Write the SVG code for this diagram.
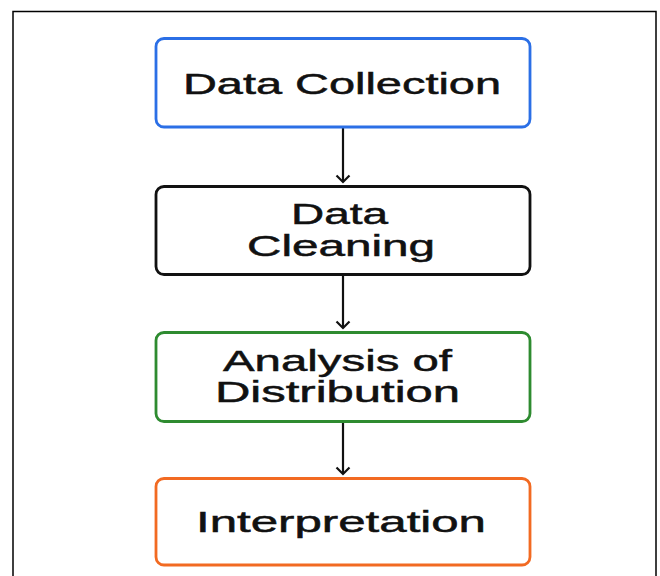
<svg xmlns="http://www.w3.org/2000/svg" width="660" height="576" viewBox="0 0 660 576">
<defs>
<style>
.box{fill:#fff;stroke-width:2.8}
.t{font-family:"Liberation Sans",Arial,sans-serif;font-size:30px;fill:#111;stroke:#111;stroke-width:0.5;text-anchor:start}
.c{stroke:#111;stroke-width:2.2;fill:none}
</style>
<marker id="ah" markerWidth="16" markerHeight="16" viewBox="0 0 16 16" refX="9" refY="8" orient="auto" markerUnits="userSpaceOnUse">
<path d="M2.5,1.5 L9,8 L2.5,14.5" fill="none" stroke="#111" stroke-width="2.2"/>
</marker>
</defs>
<rect x="0" y="0" width="660" height="576" fill="#fff"/>
<path d="M13,580 V11.5 H656 V580" fill="none" stroke="#000" stroke-width="1.5"/>
<g id="connectors">
<line class="c" x1="343" y1="127" x2="343" y2="182" marker-end="url(#ah)"/>
<line class="c" x1="343" y1="274" x2="343" y2="328" marker-end="url(#ah)"/>
<line class="c" x1="343" y1="422" x2="343" y2="474" marker-end="url(#ah)"/>
</g>
<g id="data-collection">
<rect class="box" x="156" y="38.5" width="374" height="88.5" rx="8" stroke="#2b6fe6"/>
<text class="t" x="183" y="93.5" textLength="318" lengthAdjust="spacingAndGlyphs">Data Collection</text>
</g>
<g id="data-cleaning">
<rect class="box" x="156" y="186.5" width="374" height="88" rx="8" stroke="#111"/>
<text class="t" x="291" y="223.5" textLength="97" lengthAdjust="spacingAndGlyphs">Data</text>
<text class="t" x="247" y="255.5" textLength="188" lengthAdjust="spacingAndGlyphs">Cleaning</text>
</g>
<g id="analysis">
<rect class="box" x="156" y="332.5" width="374" height="89" rx="8" stroke="#2e8b30"/>
<text class="t" x="223" y="370.5" textLength="229" lengthAdjust="spacingAndGlyphs">Analysis of</text>
<text class="t" x="215" y="401.5" textLength="245" lengthAdjust="spacingAndGlyphs">Distribution</text>
</g>
<g id="interpretation">
<rect class="box" x="156" y="478.5" width="374" height="86.5" rx="8" stroke="#f26a22"/>
<text class="t" x="196" y="531.5" textLength="290" lengthAdjust="spacingAndGlyphs">Interpretation</text>
</g>
</svg>
